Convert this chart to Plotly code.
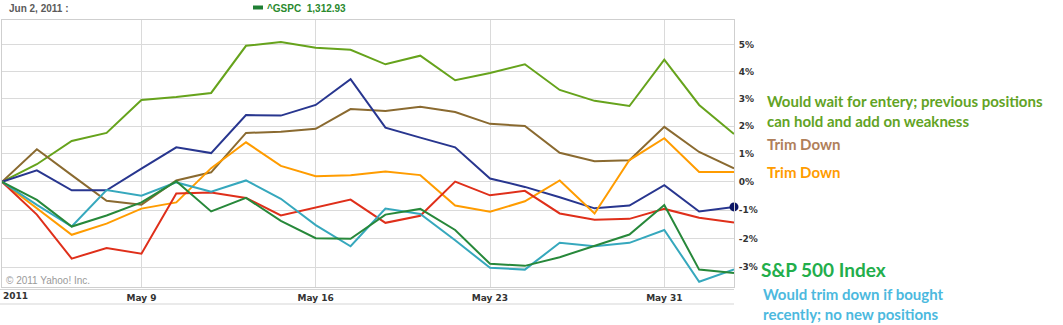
import plotly.graph_objects as go

# ---- data (percent change since May 3, 2011) ----
dates = ["2011-05-03", "2011-05-04", "2011-05-05", "2011-05-06", "2011-05-09", "2011-05-10",
         "2011-05-11", "2011-05-12", "2011-05-13", "2011-05-16", "2011-05-17", "2011-05-18",
         "2011-05-19", "2011-05-20", "2011-05-23", "2011-05-24", "2011-05-25", "2011-05-26",
         "2011-05-27", "2011-05-31", "2011-06-01", "2011-06-02"]

light_green = [0.0, 0.63, 1.47, 1.76, 2.96, 3.07, 3.22, 4.97, 5.11, 4.90, 4.82, 4.28,
               4.60, 3.69, 3.96, 4.28, 3.33, 2.93, 2.74, 4.45, 2.78, 1.72]
brown = [0.0, 1.17, 0.24, -0.67, -0.81, 0.05, 0.34, 1.76, 1.80, 1.91, 2.63, 2.56,
         2.71, 2.52, 2.09, 2.01, 1.04, 0.74, 0.77, 1.98, 1.07, 0.48]
navy = [0.0, 0.41, -0.30, -0.30, 0.47, 1.24, 1.03, 2.41, 2.39, 2.78, 3.73, 1.95,
        1.59, 1.24, 0.12, -0.18, -0.55, -0.94, -0.84, -0.12, -1.05, -0.89]
orange = [0.0, -0.94, -1.87, -1.48, -0.95, -0.73, 0.49, 1.42, 0.57, 0.20, 0.24, 0.37,
          0.24, -0.84, -1.06, -0.69, 0.05, -1.12, 0.78, 1.57, 0.35, 0.35]
red = [0.0, -1.16, -2.70, -2.33, -2.53, -0.41, -0.38, -0.57, -1.19, -0.90, -0.63, -1.45,
       -1.20, 0.01, -0.48, -0.32, -1.12, -1.34, -1.31, -0.96, -1.27, -1.44]
teal = [0.0, -0.82, -1.58, -0.29, -0.49, -0.02, -0.35, 0.05, -0.60, -1.53, -2.27, -0.95,
        -1.14, -2.06, -3.02, -3.08, -2.15, -2.27, -2.15, -1.70, -3.50, -3.07]
sp500 = [0.0, -0.64, -1.58, -1.19, -0.73, 0.02, -1.05, -0.57, -1.38, -1.99, -2.01, -1.16,
         -0.96, -1.70, -2.88, -2.95, -2.65, -2.26, -1.86, -0.82, -3.08, -3.20]

tick_dates = ["2011-05-09", "2011-05-16", "2011-05-23", "2011-05-31"]
tick_text = ["May 9", "May 16", "May 23", "May 31"]
y_ticks = [-3, -2, -1, 0, 1, 2, 3, 4, 5]

series = [
    ("Stock 1", light_green, "#66a31c"),
    ("Stock 2", brown, "#8a6a30"),
    ("Stock 3", navy, "#28368f"),
    ("Stock 4", orange, "#ff9c00"),
    ("Stock 5", red, "#df2f1a"),
    ("Stock 6", teal, "#36a8bd"),
    ("^GSPC", sp500, "#27883a"),
]

W, H = 1063, 325
L, R, T, B = 2, 329, 20, 38
PW, PH = W - L - R, H - T - B


def px(x):
    return (x - L) / PW


def py(y):
    return (H - B - y) / PH


fig = go.Figure()
for name, vals, color in series:
    fig.add_trace(go.Scatter(
        x=dates, y=[1 + v / 100 for v in vals], mode="lines", name=name,
        line=dict(color=color, width=2), hoverinfo="skip"))

# end marker on navy line
fig.add_trace(go.Scatter(
    x=[dates[-1]], y=[1 + navy[-1] / 100], mode="markers",
    marker=dict(color="#0b1566", size=9), cliponaxis=False, hoverinfo="skip"))

fig.update_layout(
    width=W, height=H, margin=dict(l=L, r=R, t=T, b=B),
    paper_bgcolor="white", plot_bgcolor="white", showlegend=False,
    xaxis=dict(type="category", range=[0, len(dates) - 1],
               tickvals=tick_dates, ticktext=tick_text,
               showgrid=True, gridcolor="#dadada", gridwidth=1,
               showline=True, linecolor="#cfcfcf", linewidth=1, mirror=True,
               ticks="", ticklabelstandoff=2,
               tickfont=dict(family="DejaVu Sans", size=9, color="#333", weight="bold"),
               zeroline=False),
    yaxis=dict(type="log", range=[-0.016279, 0.025059], side="right",
               tickvals=[1 + v / 100 for v in y_ticks],
               ticktext=[f"{v}%" for v in y_ticks],
               showgrid=True, gridcolor="#dadada", gridwidth=1,
               showline=True, linecolor="#cfcfcf", linewidth=1, mirror=True,
               ticks="", ticklabelstandoff=2,
               tickfont=dict(family="DejaVu Sans", size=9, color="#333", weight="bold"),
               zeroline=False),
)

shapes = [
    dict(type="line", xref="paper", yref="paper", x0=px(0), x1=px(734), y0=py(289.5), y1=py(289.5),
         line=dict(color="#d5d5d5", width=1)),
    dict(type="line", xref="paper", yref="paper", x0=px(0), x1=px(734), y0=py(304), y1=py(304),
         line=dict(color="#d5d5d5", width=1)),
    dict(type="rect", xref="paper", yref="paper", x0=px(253), x1=px(263), y0=py(9.5), y1=py(5.5),
         fillcolor="#1f7f34", line=dict(width=0)),
]
fig.update_layout(shapes=shapes)

ann = []


def text(x, y, s, size, color, family="Liberation Sans", bold=True, xanchor="left"):
    ann.append(dict(xref="paper", yref="paper", x=px(x), y=py(y), text=s, showarrow=False,
                    xanchor=xanchor, yanchor="middle", align="left",
                    font=dict(family=family, size=size, color=color,
                              weight="bold" if bold else "normal")))


text(7, 9, "Jun 2, 2011 :", 10, "#5a5a5a")
text(265, 9, "^GSPC  1,312.93", 10, "#2a8a2e")
text(4, 280, "© 2011 Yahoo! Inc.", 10, "#9a9a9a", bold=False)
text(1, 296, "2011", 9, "#333", family="DejaVu Sans")
text(765, 111, "Would wait for entery; previous positions<br>can hold and add on weakness", 15, "#62a325",
     family="Lato")
text(765, 144, "Trim Down", 15, "#b0805a", family="Lato")
text(765, 172, "Trim Down", 15, "#ff9c00", family="Lato")
text(759, 269, "S&P 500 Index", 19, "#22ae4b", family="Lato")
text(761, 304, "Would trim down if bought<br>recently; no new positions", 15, "#4cb9de", family="Lato")
fig.update_layout(annotations=ann)

fig.write_html("out.html")
